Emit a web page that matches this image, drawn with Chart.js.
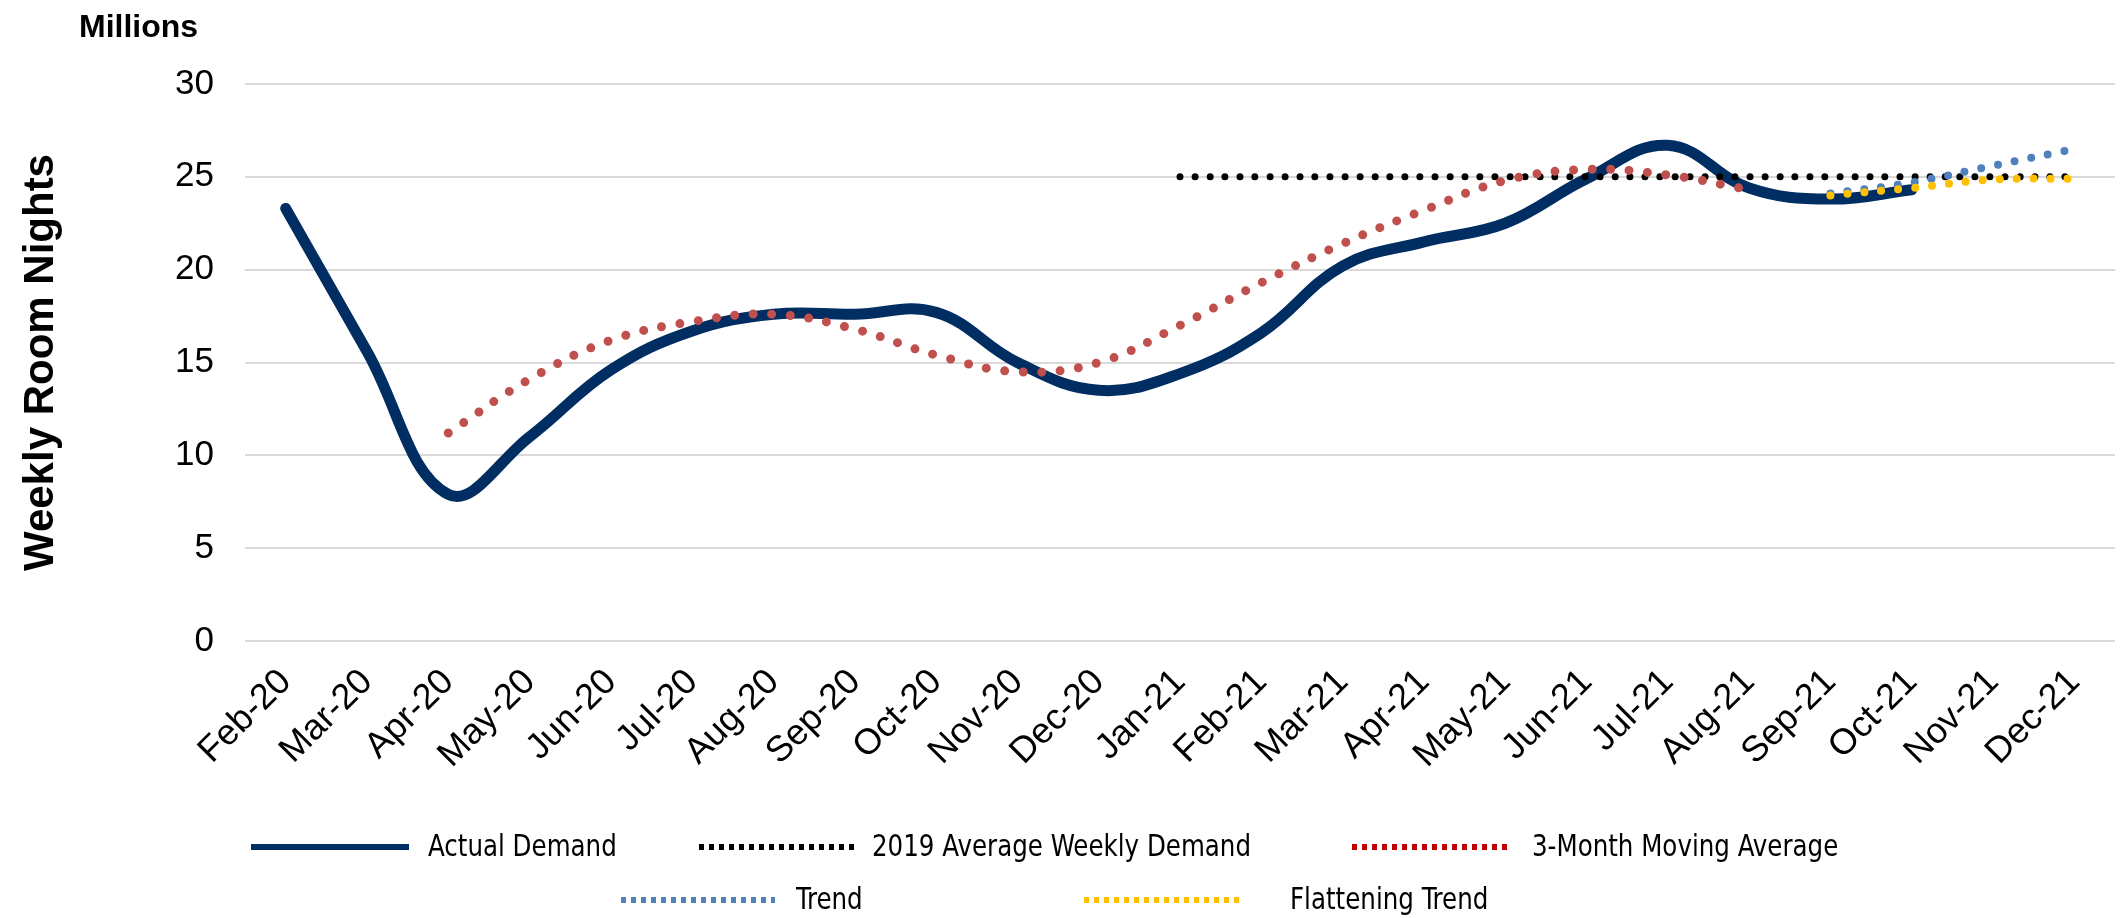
<!DOCTYPE html>
<html>
<head>
<meta charset="utf-8">
<script src="https://cdn.jsdelivr.net/npm/chart.js@4"></script>
<style>
  html, body { margin: 0; padding: 0; background: #fff; }
  #wrap { position: relative; width: 2124px; height: 918px; }
  #chart { position: absolute; left: 0; top: 0; }
  #millions {
    position: absolute; left: 79px; top: 8px;
    font: bold 32px "Liberation Sans", Arial, sans-serif; color: #000;
  }
  .lg-line { position: absolute; height: 6px; }
  .lg-text {
    position: absolute; font: 31px "Liberation Sans Narrow", "DejaVu Sans Condensed", sans-serif;
    color: #000; line-height: 1; white-space: nowrap;
    transform: scaleX(0.88); transform-origin: left center;
  }
</style>
</head>
<body>
<div id="wrap">
  <canvas id="chart" width="2124" height="918"></canvas>
  <div id="millions">Millions</div>
  <div id="legend"></div>
</div>
<script>
const months = ["Feb-20", "Mar-20", "Apr-20", "May-20", "Jun-20", "Jul-20", "Aug-20", "Sep-20",
  "Oct-20", "Nov-20", "Dec-20", "Jan-21", "Feb-21", "Mar-21", "Apr-21", "May-21", "Jun-21",
  "Jul-21", "Aug-21", "Sep-21", "Oct-21", "Nov-21", "Dec-21"];

// weekly room nights, millions
const actualDemand = [23.3, 15.6, 7.9, 11.0, 14.6, 16.7, 17.6, 17.6, 17.7, 15.0, 13.5, 14.4,
  16.6, 20.2, 21.5, 22.5, 24.9, 26.7, 24.4, 23.8, 24.3, null, null];
const avg2019 = [null, null, null, null, null, null, null, null, null, null, null, 25,
  25, 25, 25, 25, 25, 25, 25, 25, 25, 25, 25];
const movingAvg = [null, null, 11.2, 14.1, 16.2, 17.2, 17.6, 16.8, 15.4, 14.5, 15.0, 17.0,
  19.3, 21.4, 23.2, 24.8, 25.4, 25.1, 24.3, null, null, null, null];
const trend = [null, null, null, null, null, null, null, null, null, null, null, null,
  null, null, null, null, null, null, null, 24.1, 24.7, 25.6, 26.5];
const flatTrend = [null, null, null, null, null, null, null, null, null, null, null, null,
  null, null, null, null, null, null, null, 24.0, 24.4, 24.85, 24.9];

const yTicks = [0, 5, 10, 15, 20, 25, 30];

const navy = "#002d62";
const dotted = (color, width, gap) => ({
  borderColor: color,
  borderWidth: width,
  borderDash: [0, gap],
  borderCapStyle: "round",
  pointRadius: 0,
  tension: 0.4,
  fill: false,
});

const datasets = [
  { label: "Actual Demand", data: actualDemand, borderColor: navy, borderWidth: 11,
    pointRadius: 0, tension: 0.4, borderCapStyle: "round", order: 5 },
  { label: "2019 Average Weekly Demand", data: avg2019, ...dotted("#000000", 7, 15), order: 4 },
  { label: "3-Month Moving Average", data: movingAvg, ...dotted("#c0504d", 9, 18.5), order: 3 },
  { label: "Trend", data: trend, ...dotted("#4f81bd", 8, 17), order: 2 },
  { label: "Flattening Trend", data: flatTrend, ...dotted("#ffc000", 8, 17), order: 1 },
];

const chart = new Chart(document.getElementById("chart"), {
  type: "line",
  data: { labels: months, datasets: datasets },
  options: {
    responsive: false,
    animation: false,
    layout: { padding: { top: 84, right: 9, left: 0, bottom: 0 } },
    plugins: { legend: { display: false }, tooltip: { enabled: false } },
    scales: {
      x: {
        offset: true,
        grid: { display: false },
        border: { display: false },
        ticks: {
          color: "#000",
          font: { family: "Liberation Sans", size: 36 },
          minRotation: 45,
          maxRotation: 45,
          padding: 12,
          autoSkip: false,
        },
        afterFit: (s) => { s.height = 277; },
      },
      y: {
        min: 0,
        max: 30,
        afterBuildTicks: (s) => { s.ticks = yTicks.map((v) => ({ value: v })); },
        grid: { color: "#d9d9d9", lineWidth: 2, drawTicks: false },
        border: { display: false },
        ticks: {
          color: "#000",
          font: { family: "Liberation Sans", size: 35 },
          padding: 31,
        },
        title: {
          display: true,
          text: "Weekly Room Nights",
          color: "#000",
          font: { family: "Liberation Sans", size: 42, weight: "bold" },
          padding: { top: 16, bottom: 0 },
        },
        afterFit: (s) => { s.width = 245; },
      },
    },
  },
});

// legend laid out like the original
const legendItems = [
  { text: "Actual Demand", kind: "solid", color: navy, x: 251, w: 158, tx: 428, y: 847 },
  { text: "2019 Average Weekly Demand", kind: "dots", color: "#000000", x: 699, w: 155, tx: 872, y: 847 },
  { text: "3-Month Moving Average", kind: "dots", color: "#c00000", x: 1352, w: 155, tx: 1532, y: 847 },
  { text: "Trend", kind: "dots", color: "#4f81bd", x: 621, w: 154, tx: 796, y: 900 },
  { text: "Flattening Trend", kind: "dots", color: "#ffc000", x: 1084, w: 155, tx: 1290, y: 900 },
];
const legend = document.getElementById("legend");
legendItems.forEach((it) => {
  const line = document.createElement("div");
  line.className = "lg-line";
  line.style.left = it.x + "px";
  line.style.top = it.y - 3 + "px";
  line.style.width = it.w + "px";
  line.style.background = it.kind === "solid" ? it.color
    : `repeating-linear-gradient(90deg, ${it.color} 0 5px, transparent 5px 10px)`;
  legend.appendChild(line);
  const t = document.createElement("div");
  t.className = "lg-text";
  t.textContent = it.text;
  t.style.left = it.tx + "px";
  t.style.top = it.y - 17 + "px";
  legend.appendChild(t);
});
</script>
</body>
</html>
